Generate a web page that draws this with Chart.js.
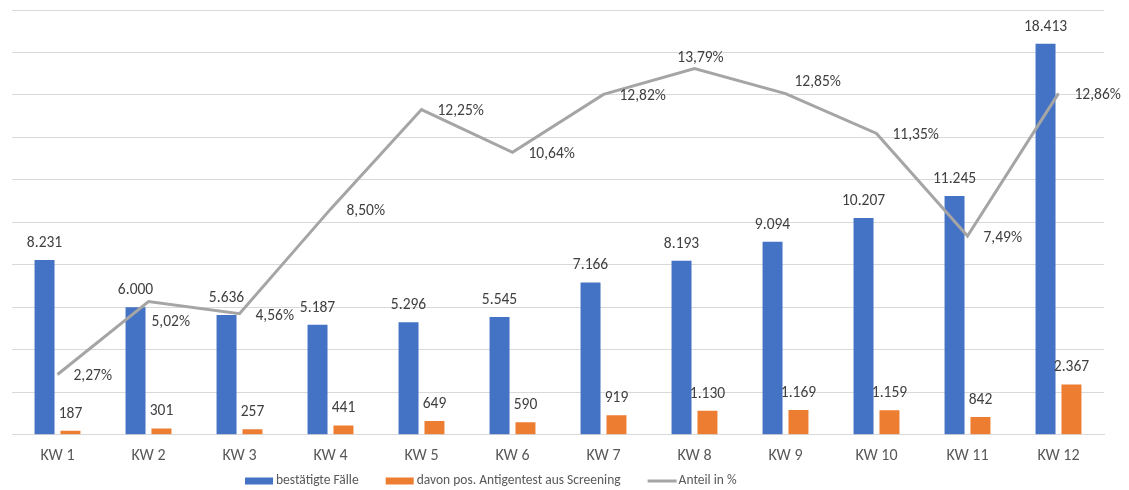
<!DOCTYPE html>
<html>
<head>
<meta charset="utf-8">
<script src="https://cdn.jsdelivr.net/npm/chart.js@4/dist/chart.umd.min.js"></script>
<style>
  html, body { margin: 0; padding: 0; background: #fff; }
  #wrap { width: 1129px; height: 490px; }
</style>
</head>
<body>
<div id="wrap"><canvas id="chart"></canvas></div>
<script>
// data
const weeks = ['KW 1', 'KW 2', 'KW 3', 'KW 4', 'KW 5', 'KW 6', 'KW 7', 'KW 8', 'KW 9', 'KW 10', 'KW 11', 'KW 12'];
const confirmed = [8231, 6000, 5636, 5187, 5296, 5545, 7166, 8193, 9094, 10207, 11245, 18413];
const antigen = [187, 301, 257, 441, 649, 590, 919, 1130, 1169, 1159, 842, 2367];
const share = [2.27, 5.02, 4.56, 8.50, 12.25, 10.64, 12.82, 13.79, 12.85, 11.35, 7.49, 12.86];
// where the % label sits relative to the point
const shareLabelPos = ['right', 'below', 'right', 'right', 'right', 'right', 'right', 'above', 'aboveRight', 'right', 'right', 'right'];

const FONT = 'Carlito, "Liberation Sans", Arial, sans-serif';

const fmtInt = v => String(v).replace(/\B(?=(\d{3})+(?!\d))/g, '.');
const fmtPct = v => v.toFixed(2).replace('.', ',') + '%';

// label offsets for the line labels
const pctOffset = {
  right: [16, 2, 'left'],
  below: [3, 21, 'left'],
  above: [6, -11, 'center'],
  aboveRight: [9, -12, 'left']
};

// simple data labels, no extra plugin available
const labelPlugin = {
  id: 'valueLabels',
  afterDatasetsDraw(chart) {
    const ctx = chart.ctx;
    ctx.save();
    ctx.font = '15.5px ' + FONT;
    ctx.fillStyle = '#404040';
    ctx.textBaseline = 'middle';
    chart.data.datasets.forEach((ds, i) => {
      const meta = chart.getDatasetMeta(i);
      meta.data.forEach((el, j) => {
        const v = ds.data[j];
        if (ds.type === 'line') {
          const [dx, dy, align] = pctOffset[shareLabelPos[j]];
          ctx.textAlign = align;
          ctx.fillText(fmtPct(v), el.x + dx, el.y + dy);
        } else {
          ctx.textAlign = 'center';
          ctx.fillText(fmtInt(v), el.x, el.y - 17);
        }
      });
    });
    ctx.restore();
  }
};

// legend drawn by hand so the spacing matches the Excel one
const legendPlugin = {
  id: 'excelLegend',
  afterDraw(chart) {
    const ctx = chart.ctx;
    ctx.save();
    ctx.font = '13.5px ' + FONT;
    ctx.textBaseline = 'middle';
    ctx.textAlign = 'left';
    const y = 481;
    let x = 245;
    chart.data.datasets.forEach(ds => {
      if (ds.type === 'line') {
        ctx.strokeStyle = ds.borderColor;
        ctx.lineWidth = 3;
        ctx.beginPath();
        ctx.moveTo(x, y);
        ctx.lineTo(x + 29, y);
        ctx.stroke();
      } else {
        ctx.fillStyle = ds.backgroundColor;
        ctx.fillRect(x, y - 3.5, 28, 7);
      }
      ctx.fillStyle = '#595959';
      ctx.fillText(ds.label, x + 31, y);
      x += 31 + ctx.measureText(ds.label).width + 27;
    });
    ctx.restore();
  }
};

new Chart(document.getElementById('chart'), {
  type: 'bar',
  data: {
    labels: weeks,
    datasets: [
      {
        label: 'bestätigte Fälle',
        data: confirmed,
        backgroundColor: '#4472C4',
        yAxisID: 'y',
        categoryPercentage: 0.57,
        barPercentage: 0.77
      },
      {
        label: 'davon pos. Antigentest aus Screening',
        data: antigen,
        backgroundColor: '#ED7D31',
        yAxisID: 'y',
        categoryPercentage: 0.57,
        barPercentage: 0.77
      },
      {
        type: 'line',
        label: 'Anteil in %',
        data: share,
        borderColor: '#A5A5A5',
        backgroundColor: '#A5A5A5',
        borderWidth: 3,
        pointRadius: 0,
        tension: 0,
        yAxisID: 'y2',
        order: -1
      }
    ]
  },
  options: {
    responsive: true,
    maintainAspectRatio: false,
    animation: false,
    layout: { padding: { left: 12, right: 25, top: 10, bottom: 12 } },
    scales: {
      x: {
        grid: { display: false, drawTicks: false },
        border: { display: true, color: '#D9D9D9' },
        ticks: { color: '#595959', font: { size: 16, family: FONT }, padding: 12 }
      },
      y: {
        min: 0,
        max: 20000,
        ticks: { display: false, stepSize: 2000 },
        grid: { color: '#D9D9D9', drawTicks: false },
        border: { display: false }
      },
      y2: {
        position: 'right',
        display: false,
        min: 0,
        max: 16
      }
    },
    plugins: {
      tooltip: { enabled: false },
      legend: { display: false }
    }
  },
  plugins: [labelPlugin, legendPlugin]
});
</script>
</body>
</html>
